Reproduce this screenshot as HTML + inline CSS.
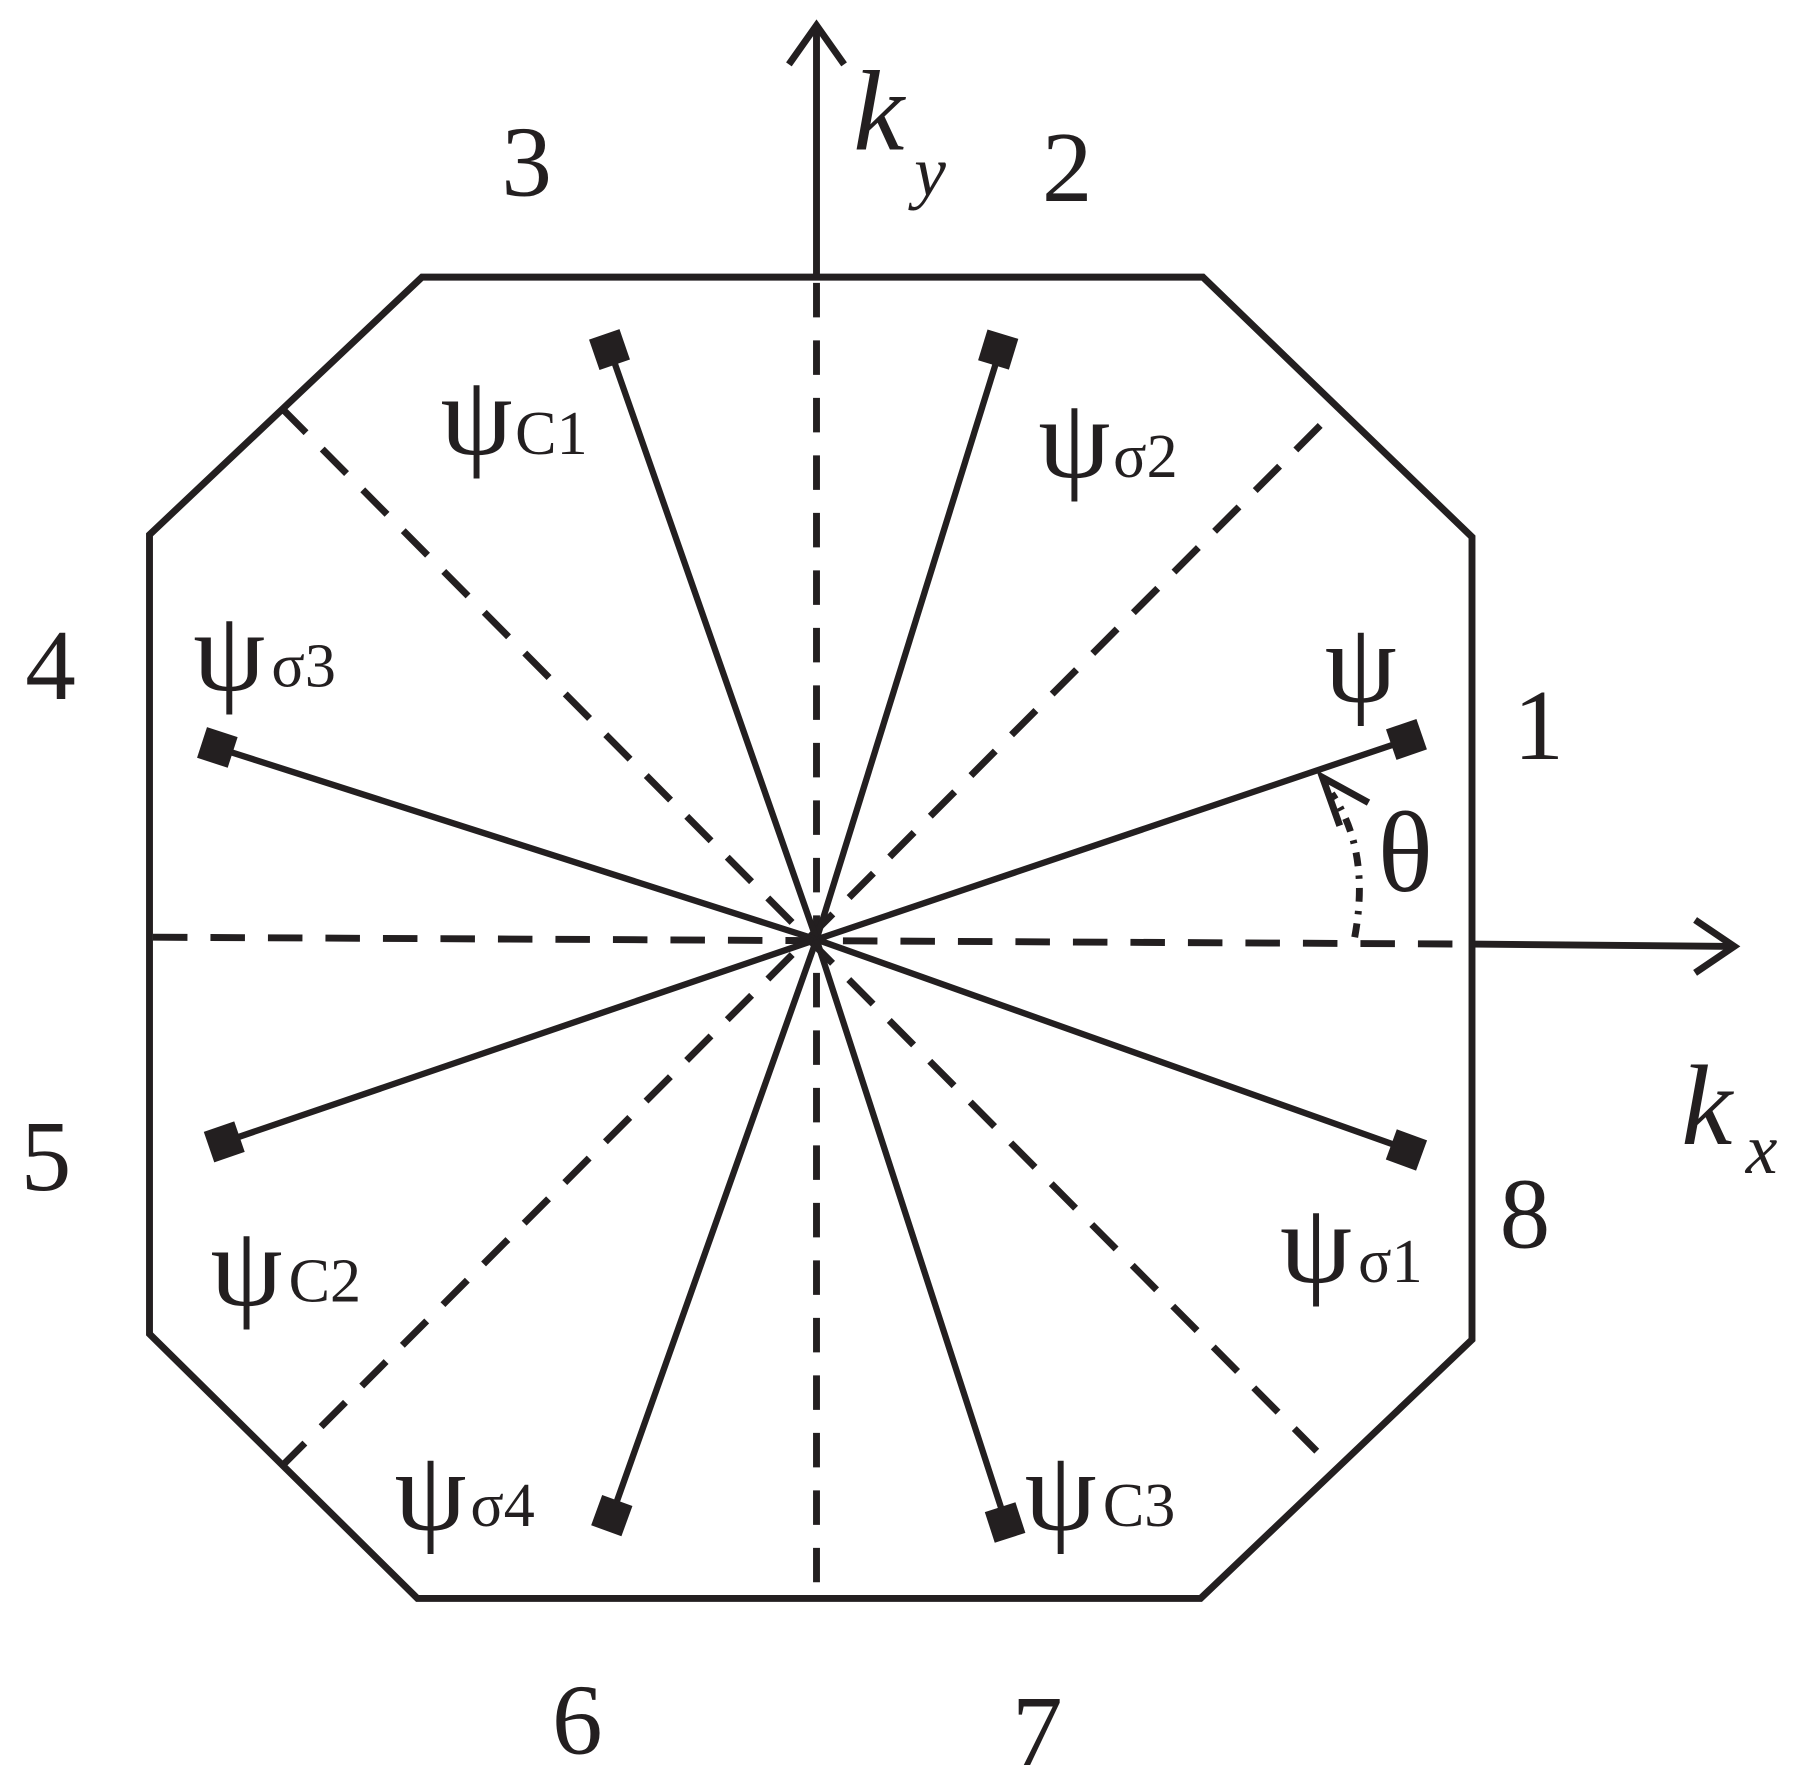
<!DOCTYPE html>
<html><head><meta charset="utf-8"><style>
html,body{margin:0;padding:0;background:#fff;}
svg{display:block}
text{font-family:"Liberation Serif",serif;fill:#231f20}
</style></head><body>
<svg width="1794" height="1787" viewBox="0 0 1560 1554" preserveAspectRatio="none" xmlns="http://www.w3.org/2000/svg">
<g stroke="#231f20" fill="none" stroke-width="6">
<polygon points="367,241 1046,241 1280,467 1280,1165 1044,1390 363,1390 130,1160 130,465"/>
<line x1="710" y1="22" x2="710" y2="241"/>
<polyline points="686,56 710,22 734,56"/>
<line x1="1280" y1="821" x2="1508" y2="823"/>
<polyline points="1474,800 1508,823 1474,846"/>
<g stroke-dasharray="30,20">
<line x1="710" y1="246" x2="710" y2="1388"/>
<line x1="133" y1="815" x2="1278" y2="821"/>
<line x1="245" y1="355" x2="1145" y2="1262"/>
<line x1="1148" y1="370" x2="245" y2="1275"/>
</g>
<g stroke-dasharray="12,8,3,8" stroke-width="6">
<path d="M1178,815 Q1192,740 1158,690"/>
</g>
<polyline points="1165,718 1150,676 1190,698" stroke-width="6"/>
<g stroke-width="5.5">
<line x1="710" y1="817" x2="1225" y2="643"/>
<line x1="710" y1="817" x2="1225" y2="1000"/>
<line x1="710" y1="817" x2="870" y2="303"/>
<line x1="710" y1="817" x2="530" y2="303"/>
<line x1="710" y1="817" x2="188" y2="650"/>
<line x1="710" y1="817" x2="195" y2="993"/>
<line x1="710" y1="817" x2="532" y2="1318"/>
<line x1="710" y1="817" x2="875" y2="1325"/>
</g>
</g>
<g fill="#231f20">
<rect x="-14" y="-14" width="28" height="28" transform="translate(1223,643) rotate(-19)"/>
<rect x="-14" y="-14" width="28" height="28" transform="translate(1223,1000) rotate(20)"/>
<rect x="-14" y="-14" width="28" height="28" transform="translate(868,304) rotate(17)"/>
<rect x="-14" y="-14" width="28" height="28" transform="translate(530,304) rotate(-19)"/>
<rect x="-14" y="-14" width="28" height="28" transform="translate(189,650) rotate(18)"/>
<rect x="-14" y="-14" width="28" height="28" transform="translate(195,993) rotate(-19)"/>
<rect x="-14" y="-14" width="28" height="28" transform="translate(532,1318) rotate(20)"/>
<rect x="-14" y="-14" width="28" height="28" transform="translate(874,1324) rotate(-18)"/>
</g>
<g font-size="88">
<text x="436" y="170">3</text>
<text x="906" y="175">2</text>
<text x="22" y="608">4</text>
<text x="1316" y="660">1</text>
<text x="18" y="1035">5</text>
<text x="1304" y="1085">8</text>
<text x="480" y="1525">6</text>
<text x="880" y="1535">7</text>
</g>
<text x="742" y="130" font-size="100" font-style="italic">k</text>
<text x="795" y="170" font-size="62" font-style="italic">y</text>
<text x="1462" y="995" font-size="100" font-style="italic">k</text>
<text x="1518" y="1020" font-size="62" font-style="italic">x</text>
<g font-size="100">
<text x="383" y="395">ψ</text><text x="448" y="395" font-size="54">C1</text>
<text x="903" y="415">ψ</text><text x="968" y="415" font-size="54">σ2</text>
<text x="168" y="600">ψ</text><text x="236" y="597" font-size="54">σ3</text>
<text x="1152" y="610">ψ</text>
<text x="1198" y="775">θ</text>
<text x="183" y="1135">ψ</text><text x="251" y="1132" font-size="54">C2</text>
<text x="1113" y="1115">ψ</text><text x="1181" y="1115" font-size="54">σ1</text>
<text x="343" y="1330">ψ</text><text x="409" y="1327" font-size="54">σ4</text>
<text x="891" y="1330">ψ</text><text x="959" y="1327" font-size="54">C3</text>
</g>
</svg>
</body></html>
